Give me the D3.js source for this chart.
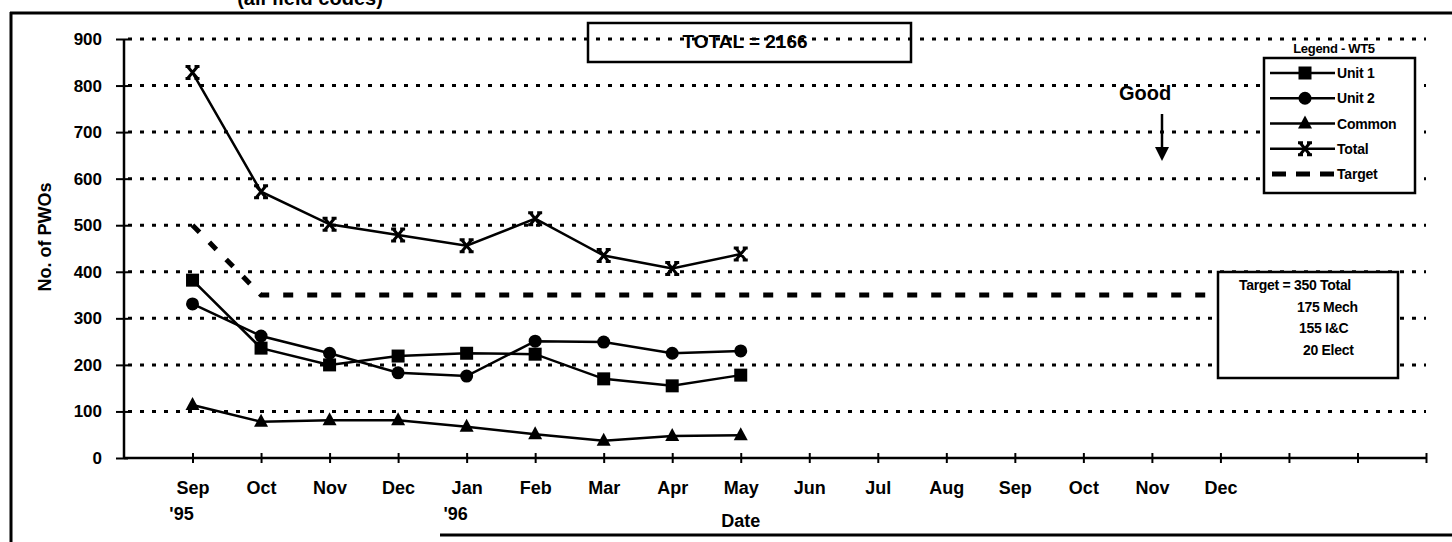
<!DOCTYPE html>
<html><head><meta charset="utf-8">
<script src="https://cdn.jsdelivr.net/npm/d3@7"></script>
<style>
html,body{margin:0;padding:0;background:#fff;}
svg{display:block;font-family:"Liberation Sans",Arial,sans-serif;font-weight:bold;}
</style></head>
<body>
<svg id="c" width="1452" height="542"></svg>
<script>
// ---- data ----
const months = ["Sep","Oct","Nov","Dec","Jan","Feb","Mar","Apr","May","Jun","Jul","Aug","Sep","Oct","Nov","Dec","","",""];
const yearLabels = [{i:0, t:"'95"},{i:4, t:"'96"}];
const yTicks = [0,100,200,300,400,500,600,700,800,900];
const unit1  = [382,236,200,219,225,223,170,155,178];
const unit2  = [331,262,225,183,176,251,249,225,230];
const common = [114,78,81,81,67,51,37,47,49];
const total  = [828,572,502,479,456,514,435,407,438];
const target = [500,350,350,350,350,350,350,350,350,350,350,350,350,350,350,350];
const targetNote = ["Target = 350 Total","175 Mech","155 I&C","20 Elect"];
const legendItems = [{name:"Unit 1",m:"square"},{name:"Unit 2",m:"circle"},{name:"Common",m:"triangle"},{name:"Total",m:"x"},{name:"Target",m:"dash"}];

const svg = d3.select("#c");
const x = d3.scaleLinear().domain([-1,18]).range([124,1426]);
const y = d3.scaleLinear().domain([0,900]).range([458,39]);

// outer frame
svg.append("line").attr("x1",10).attr("x2",1452).attr("y1",13).attr("y2",13).attr("stroke","#000").attr("stroke-width",3);
svg.append("line").attr("x1",11).attr("x2",11).attr("y1",12).attr("y2",542).attr("stroke","#000").attr("stroke-width",3);
svg.append("line").attr("x1",440).attr("x2",1452).attr("y1",535).attr("y2",535).attr("stroke","#000").attr("stroke-width",3);
svg.append("text").attr("x",310).attr("y",5).attr("text-anchor","middle").attr("font-size",20).text("(all field codes)");

// gridlines
svg.append("g").selectAll("line").data(yTicks.filter(v=>v>0)).join("line")
  .attr("x1",x(-1)+4).attr("x2",x(18)).attr("y1",d=>y(d)).attr("y2",d=>y(d))
  .attr("stroke","#000").attr("stroke-width",3).attr("stroke-dasharray","4,8");

// y axis
const ya = svg.append("g").attr("transform",`translate(${x(-1)},0)`)
  .call(d3.axisLeft(y).tickValues(yTicks).tickSize(8).tickPadding(14));
ya.select(".domain").attr("stroke-width",2.5).attr("d",`M0,${y(0)}V${y(900)}`);
ya.selectAll(".tick line").attr("x2",-8).attr("x1",4).attr("stroke-width",2);
ya.selectAll(".tick text").attr("font-size",17).attr("font-weight","bold").attr("font-family","Liberation Sans, Arial").attr("fill","#000");

// x axis
const xa = svg.append("g").attr("transform",`translate(0,${y(0)})`)
  .call(d3.axisBottom(x).tickValues(d3.range(0,19)).tickSize(5).tickFormat(i=>months[i]).tickPadding(18));
xa.select(".domain").attr("stroke-width",2.5).attr("d",`M${x(-1)},0H${x(18)}`);
xa.selectAll(".tick line").attr("y1",-5).attr("y2",5).attr("stroke-width",2);
xa.selectAll(".tick text").attr("font-size",18).attr("font-weight","bold").attr("font-family","Liberation Sans, Arial").attr("fill","#000");
svg.append("g").selectAll("text").data(yearLabels).join("text")
  .attr("x",d=>x(d.i)-11).attr("y",520).attr("text-anchor","middle").attr("font-size",18).text(d=>d.t);
svg.append("text").attr("x",x(8)).attr("y",527).attr("text-anchor","middle").attr("font-size",18).text("Date");
svg.append("text").attr("transform","translate(51,237) rotate(-90)").attr("text-anchor","middle").attr("font-size",18).text("No. of PWOs");

// target line
const line = d3.line().x((d,i)=>x(i)).y(d=>y(d));
svg.append("path").datum(target).attr("d",line).attr("fill","none").attr("stroke","#000")
  .attr("stroke-width",5).attr("stroke-dasharray","10,14");

// marker drawers
function marker(g, type, cx, cy){
  if(type==="square") g.append("rect").attr("x",cx-6.5).attr("y",cy-6.5).attr("width",13).attr("height",13).attr("fill","#000");
  else if(type==="circle") g.append("circle").attr("cx",cx).attr("cy",cy).attr("r",6.5).attr("fill","#000");
  else if(type==="triangle") g.append("path").attr("d",`M${cx},${cy-8}L${cx+7},${cy+5}L${cx-7},${cy+5}Z`).attr("fill","#000");
  else if(type==="x") g.append("path").attr("d",`M${cx-5},${cy-6}L${cx+5},${cy+6}M${cx+5},${cy-6}L${cx-5},${cy+6}M${cx-7},${cy-6}H${cx-2}M${cx+2},${cy-6}H${cx+7}M${cx-7},${cy+6}H${cx-2}M${cx+2},${cy+6}H${cx+7}`).attr("stroke","#000").attr("stroke-width",3).attr("fill","none");
}
const series = [{d:unit1,m:"square"},{d:unit2,m:"circle"},{d:common,m:"triangle"},{d:total,m:"x"}];
series.forEach(s=>{
  const g = svg.append("g");
  g.append("path").datum(s.d).attr("d",line).attr("fill","none").attr("stroke","#000").attr("stroke-width",2.5);
  s.d.forEach((v,i)=>marker(g,s.m,x(i),y(v)));
});

// TOTAL box
svg.append("rect").attr("x",588).attr("y",23).attr("width",323).attr("height",39).attr("fill","none").attr("stroke","#000").attr("stroke-width",2.5);
svg.append("text").attr("x",745).attr("y",48).attr("text-anchor","middle").attr("font-size",19).text("TOTAL = 2166");

// Good arrow
svg.append("text").attr("x",1145).attr("y",100).attr("text-anchor","middle").attr("font-size",20).text("Good");
svg.append("line").attr("x1",1162).attr("x2",1162).attr("y1",114).attr("y2",150).attr("stroke","#000").attr("stroke-width",2.5);
svg.append("path").attr("d","M1155,147L1169,147L1162,161Z").attr("fill","#000");

// Legend
svg.append("text").attr("x",1334).attr("y",53).attr("text-anchor","middle").attr("font-size",13).attr("letter-spacing",-0.3).text("Legend - WT5");
svg.append("rect").attr("x",1264).attr("y",58).attr("width",151).attr("height",135).attr("fill","#fff").attr("stroke","#000").attr("stroke-width",2.5);
const ly = d3.scalePoint().domain(legendItems.map(d=>d.name)).range([73,174]);
legendItems.forEach(it=>{
  const g = svg.append("g"); const cy = ly(it.name);
  if(it.m==="dash"){
    g.append("line").attr("x1",1272).attr("x2",1335).attr("y1",cy).attr("y2",cy).attr("stroke","#000").attr("stroke-width",5).attr("stroke-dasharray","14,10");
  } else {
    g.append("line").attr("x1",1270).attr("x2",1335).attr("y1",cy).attr("y2",cy).attr("stroke","#000").attr("stroke-width",2.5);
    marker(g,it.m,1305,cy);
  }
  g.append("text").attr("x",1337).attr("y",cy+5).attr("font-size",14).attr("letter-spacing",-0.2).text(it.name);
});

// Target note box
svg.append("rect").attr("x",1218).attr("y",272).attr("width",180).attr("height",106).attr("fill","#fff").attr("stroke","#000").attr("stroke-width",2.5);
const noteX = [1239,1297,1299,1303];
const noteY = [290,312,333,355];
targetNote.forEach((t,i)=>svg.append("text").attr("x",noteX[i]).attr("y",noteY[i]).attr("font-size",14).attr("letter-spacing",-0.3).text(t));
</script>
</body></html>
